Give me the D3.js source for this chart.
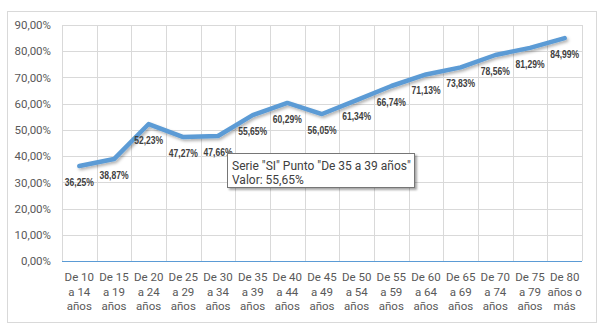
<!DOCTYPE html>
<html><head><meta charset="utf-8">
<script src="https://cdn.jsdelivr.net/npm/d3@7"></script>
<style>
html,body{margin:0;padding:0;background:#fff;}
svg{display:block;}
</style></head>
<body>
<svg id="chart" width="614" height="334"></svg>
<script>
const categories = [
  ["De 10","a 14","años"],["De 15","a 19","años"],["De 20","a 24","años"],
  ["De 25","a 29","años"],["De 30","a 34","años"],["De 35","a 39","años"],
  ["De 40","a 44","años"],["De 45","a 49","años"],["De 50","a 54","años"],
  ["De 55","a 59","años"],["De 60","a 64","años"],["De 65","a 69","años"],
  ["De 70","a 74","años"],["De 75","a 79","años"],["De 80","años o","más"]
];
const values = [36.25,38.87,52.23,47.27,47.66,55.65,60.29,56.05,61.34,66.74,71.13,73.83,78.56,81.29,84.99];
const yTicks = [0,10,20,30,40,50,60,70,80,90];
const tooltipLines = ['Serie "SI" Punto "De 35 a 39 años"', 'Valor: 55,65%'];

const svg = d3.select("#chart");
const L = 62, R = 582, T = 25, B = 261;
const x = d3.scaleBand().domain(d3.range(categories.length)).range([L, R]);
const y = d3.scaleLinear().domain([0, 90]).range([B, T]);
const fmt = v => d3.format(".2f")(v).replace(".", ",") + "%";
const axisFont = "Roboto, 'Noto Sans', sans-serif";

// chart frame
svg.append("rect").attr("x", 7.5).attr("y", 11.5).attr("width", 589).attr("height", 311)
  .attr("fill", "#fff").attr("stroke", "#d9d9d9");

const defs = svg.append("defs");
const f = defs.append("filter").attr("id", "sh").attr("x", "-10%").attr("y", "-20%").attr("width", "120%").attr("height", "160%");
f.append("feDropShadow").attr("dx", 1.5).attr("dy", 2).attr("stdDeviation", 1.5).attr("flood-color", "#000").attr("flood-opacity", 0.3);
const f2 = defs.append("filter").attr("id", "tsh").attr("x", "-10%").attr("y", "-20%").attr("width", "130%").attr("height", "160%");
f2.append("feDropShadow").attr("dx", 2).attr("dy", 2).attr("stdDeviation", 1.2).attr("flood-color", "#000").attr("flood-opacity", 0.35);

// horizontal gridlines
svg.append("g").selectAll("line").data(yTicks.filter(d => d > 0)).join("line")
  .attr("x1", L).attr("x2", R)
  .attr("y1", d => Math.round(y(d)) + 0.5).attr("y2", d => Math.round(y(d)) + 0.5)
  .attr("stroke", "#d9d9d9");
// vertical gridlines
const vx = d3.range(categories.length + 1).map(i => i < categories.length ? x(i) : R);
svg.append("g").selectAll("line").data(vx).join("line")
  .attr("x1", d => Math.round(d) + 0.5).attr("x2", d => Math.round(d) + 0.5)
  .attr("y1", T).attr("y2", B)
  .attr("stroke", "#d9d9d9");

// y axis labels
const yAxis = d3.axisLeft(y).tickValues(yTicks).tickFormat(fmt).tickSize(0).tickPadding(0);
const gy = svg.append("g").attr("transform", `translate(${L - 11},0)`).call(yAxis);
gy.select(".domain").remove();
gy.selectAll("text").attr("font-family", axisFont).attr("font-size", 11.5)
  .attr("fill", "#595959");

// x axis line
svg.append("line").attr("x1", L).attr("x2", R).attr("y1", B + 0.5).attr("y2", B + 0.5)
  .attr("stroke", "#5b9bd5").attr("stroke-width", 1);

// x labels
const gx = svg.append("g");
categories.forEach((c, i) => {
  const t = gx.append("text").attr("x", x(i) + x.bandwidth() / 2).attr("y", 281)
    .attr("text-anchor", "middle").attr("font-family", axisFont)
    .attr("font-size", 11.5).attr("fill", "#595959");
  c.forEach((s, k) => t.append("tspan").attr("x", x(i) + x.bandwidth() / 2).attr("dy", k === 0 ? 0 : 14.5).text(s));
});

// line
const line = d3.line().x((d, i) => x(i) + x.bandwidth() / 2).y(d => y(d));
svg.append("path").datum(values).attr("d", line).attr("fill", "none")
  .attr("stroke", "#5b9bd5").attr("stroke-width", 4.5)
  .attr("stroke-linejoin", "round").attr("stroke-linecap", "round")
  .attr("filter", "url(#sh)");

// data labels
svg.append("g").selectAll("text").data(values).join("text")
  .attr("x", (d, i) => x(i) + x.bandwidth() / 2)
  .attr("y", d => y(d) + 20)
  .attr("text-anchor", "middle")
  .attr("font-family", "'Liberation Sans', Arial, sans-serif")
  .attr("font-weight", "bold").attr("font-size", 11.5).attr("fill", "#404040")
  .attr("textLength", 29).attr("lengthAdjust", "spacingAndGlyphs")
  .text(fmt);

// tooltip
const tg = svg.append("g").attr("transform", "translate(227,153)");
tg.append("rect").attr("x", 0.5).attr("y", 0.5).attr("width", 187).attr("height", 34)
  .attr("fill", "#fff").attr("stroke", "#767676").attr("filter", "url(#tsh)");
tg.selectAll("text").data(tooltipLines).join("text")
  .attr("x", 5).attr("y", (d, i) => 17 + i * 14)
  .attr("font-family", axisFont).attr("font-size", 12).attr("fill", "#404040")
  .text(d => d);
</script>
</body></html>
